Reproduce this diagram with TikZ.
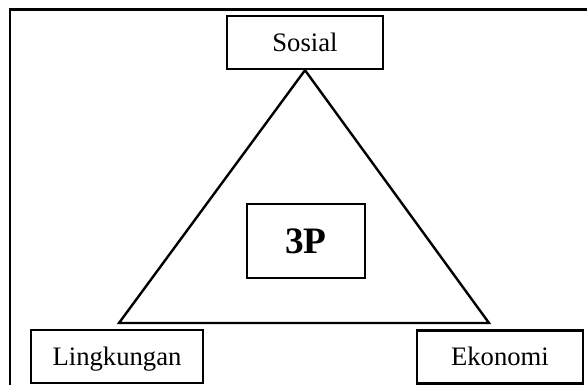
\documentclass[tikz,border=0pt]{standalone}
\usepackage{fontspec}
\setmainfont{Liberation Serif}
\usepackage{tikz}
\tikzset{
  pilar/.style={
    draw,
    line width=1.8pt,
    inner sep=0pt,
    minimum height=39.75pt,
    text height=13.2pt,
    text depth=0pt,
    font=\fontsize{20}{24}\selectfont
  },
  pusat/.style={pilar,minimum width=88.5pt,minimum height=55.5pt,
                text height=18.5pt,
                font=\fontsize{28}{32}\selectfont\bfseries},
  bingkai/.style={line width=1.8pt},
  segitiga/.style={line width=1.8pt,line join=miter}
}

\begin{document}
\begin{tikzpicture}[x=0.75pt,y=0.75pt]
  \useasboundingbox (0,0) rectangle (587,-385);
  \clip (0,0) rectangle (587,-385);

  % outer frame, cut off by the page
  \draw[bingkai] (10,-400) -- (10,-9.5) -- (600,-9.5);

  \node[pilar,minimum width=117pt] (sosial) at (305,-42.5) {Sosial};
  \node[pilar,minimum width=129pt] (ling) at (117,-356.5) {Lingkungan};
  \node[pilar,minimum width=124.5pt] (eko) at (500,-357) {Ekonomi};

  \coordinate (kiri) at (119,-323);
  \coordinate (kanan) at (489,-323);
  \draw[segitiga] (sosial.south) -- (kiri) -- (kanan) -- cycle;

  \node[pusat] (tiga) at (306,-241) {3P};
\end{tikzpicture}
\end{document}
